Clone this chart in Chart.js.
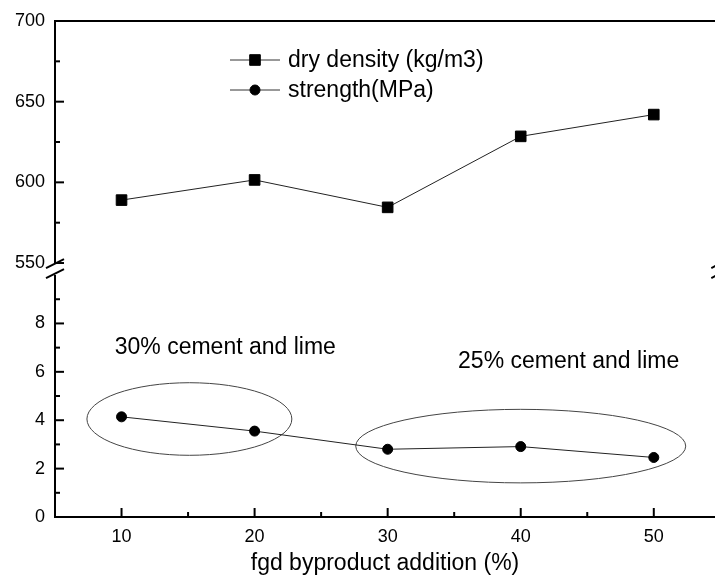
<!DOCTYPE html>
<html>
<head>
<meta charset="utf-8">
<script src="https://cdn.jsdelivr.net/npm/chart.js@4/dist/chart.umd.min.js"></script>
<style>
  html, body { margin: 0; padding: 0; overflow: hidden; background: #fff; }
  canvas { display: block; }
</style>
</head>
<body>
<canvas id="chart" width="715" height="584"></canvas>
<script>
const additions  = [10, 20, 30, 40, 50];
const dryDensity = [589, 601.5, 584.5, 628.5, 642];
const strength   = [4.14, 3.55, 2.8, 2.91, 2.46];

const xMajor = [10, 20, 30, 40, 50];
const xMinor = [15, 25, 35, 45];
const xFrameRight = 55;            // right frame line, just beyond the visible range
const densityMajor  = [550, 600, 650, 700];
const densityMinor  = [575, 625, 675];
const strengthMajor = [0, 2, 4, 6, 8];
const strengthMinor = [1, 3, 5, 7, 9];

// groups of mixes circled on the strength panel
const groupLabels = ['30% cement and lime', '25% cement and lime'];
const groupCenterX = [15.1, 40];
const groupCenterY = [4.05, 2.93];
const groupHalfX   = [7.7, 12.4];
const groupHalfY   = [1.5, 1.52];
const labelX = [17.8, 43.6];
const labelY = [7.0, 6.4];

const FONT = '"Liberation Sans", Arial, Helvetica, sans-serif';

const toPoints = (ys) => additions.map((x, i) => ({ x, y: ys[i] }));

const brokenAxes = {
    id: 'brokenAxes',
    beforeDatasetsDraw(chart) {
        const { ctx, scales: { x, ys } } = chart;
        ctx.save();
        ctx.strokeStyle = '#444';
        ctx.lineWidth = 1;
        groupLabels.forEach((label, i) => {
            const cx = x.getPixelForValue(groupCenterX[i]);
            const cy = ys.getPixelForValue(groupCenterY[i]);
            const rx = x.getPixelForValue(groupCenterX[i] + groupHalfX[i]) - cx;
            const ry = cy - ys.getPixelForValue(groupCenterY[i] + groupHalfY[i]);
            ctx.beginPath();
            ctx.ellipse(cx, cy, rx, ry, 0, 0, Math.PI * 2);
            ctx.stroke();
        });
        ctx.fillStyle = '#000';
        ctx.font = '23px ' + FONT;
        ctx.textAlign = 'center';
        ctx.textBaseline = 'middle';
        groupLabels.forEach((label, i) => {
            ctx.fillText(label, x.getPixelForValue(labelX[i]), ys.getPixelForValue(labelY[i]));
        });
        ctx.restore();
    },
    afterDraw(chart) {
        const { ctx, chartArea: a, scales: { x, yd, ys } } = chart;
        const line = (x1, y1, x2, y2) => {
            ctx.beginPath(); ctx.moveTo(x1, y1); ctx.lineTo(x2, y2); ctx.stroke();
        };
        ctx.save();
        ctx.strokeStyle = '#000';
        ctx.lineWidth = 2;
        ctx.lineCap = 'butt';

        const brkTop = yd.getPixelForValue(550);
        const brkBot = ys.getPixelForValue(10);
        const rightPx = x.getPixelForValue(xFrameRight);

        line(a.left - 1, a.top, rightPx, a.top);
        [a.left, rightPx].forEach(px => {
            line(px, a.top, px, brkTop);
            line(px, brkBot, px, a.bottom);
            line(px - 9, brkTop + 5, px + 9, brkTop - 4);
            line(px - 9, brkBot + 3, px + 9, brkBot - 6);
        });

        // inward tick marks
        densityMajor.forEach(v => line(a.left, yd.getPixelForValue(v), a.left + 9, yd.getPixelForValue(v)));
        densityMinor.forEach(v => line(a.left, yd.getPixelForValue(v), a.left + 5, yd.getPixelForValue(v)));
        strengthMajor.forEach(v => line(a.left, ys.getPixelForValue(v), a.left + 9, ys.getPixelForValue(v)));
        strengthMinor.forEach(v => line(a.left, ys.getPixelForValue(v), a.left + 5, ys.getPixelForValue(v)));
        xMajor.forEach(v => line(x.getPixelForValue(v), a.bottom, x.getPixelForValue(v), a.bottom - 9));
        xMinor.forEach(v => line(x.getPixelForValue(v), a.bottom, x.getPixelForValue(v), a.bottom - 5));

        // legend: line with marker, then label
        ctx.font = '23px ' + FONT;
        ctx.textBaseline = 'middle';
        ctx.textAlign = 'left';
        chart.data.datasets.forEach((ds, i) => {
            const y = 60 + i * 30;
            ctx.strokeStyle = '#333';
            ctx.lineWidth = 1;
            line(230, y, 280, y);
            ctx.fillStyle = ds.pointBackgroundColor;
            ctx.strokeStyle = ds.pointBorderColor;
            Chart.helpers.drawPoint(ctx, {
                pointStyle: ds.pointStyle,
                radius: ds.pointRadius,
                borderWidth: ds.pointBorderWidth,
                rotation: 0
            }, 255, y);
            ctx.fillStyle = '#000';
            ctx.fillText(ds.label, 288, y + 1);
        });
        ctx.restore();
    }
};

new Chart(document.getElementById('chart'), {
    type: 'line',
    data: {
        datasets: [{
            label: 'dry density (kg/m3)',
            data: toPoints(dryDensity),
            yAxisID: 'yd',
            borderColor: '#222',
            borderWidth: 1,
            pointStyle: 'rect',
            pointRadius: 7.5,
            pointBorderWidth: 1,
            pointBackgroundColor: '#000',
            pointBorderColor: '#000'
        }, {
            label: 'strength(MPa)',
            data: toPoints(strength),
            yAxisID: 'ys',
            borderColor: '#222',
            borderWidth: 1,
            pointStyle: 'circle',
            pointRadius: 5,
            pointBorderWidth: 1,
            pointBackgroundColor: '#000',
            pointBorderColor: '#000'
        }]
    },
    options: {
        responsive: false,
        animation: false,
        layout: { autoPadding: false, padding: { top: 21, right: 0, left: 0, bottom: 0 } },
        plugins: { legend: { display: false }, tooltip: { enabled: false } },
        scales: {
            x: {
                type: 'linear',
                min: 5,
                max: 54.6,      // frame continues off the right edge
                afterBuildTicks: s => { s.ticks = xMajor.map(value => ({ value })); },
                afterFit: s => { s.height = 67; s.paddingLeft = 0; s.paddingRight = 0; },
                grid: { display: false, drawTicks: false },
                border: { display: true, color: '#000', width: 2 },
                ticks: { color: '#000', padding: 9, font: { family: FONT, size: 18 } },
                title: {
                    display: true,
                    text: 'fgd byproduct addition (%)',
                    color: '#000',
                    font: { family: FONT, size: 23 },
                    padding: { top: 0, bottom: 7 }
                }
            },
            // stacked pair: strength panel below, density panel above
            ys: {
                type: 'linear',
                position: 'left',
                stack: 'y',
                stackWeight: 1,
                min: 0,
                max: 10.25,     // leaves room for the break above 10
                afterBuildTicks: s => { s.ticks = strengthMajor.map(value => ({ value })); },
                afterFit: s => { s.width = 55; },
                grid: { display: false, drawTicks: false },
                border: { display: false },
                ticks: { color: '#000', padding: 10, font: { family: FONT, size: 18 } }
            },
            yd: {
                type: 'linear',
                position: 'left',
                stack: 'y',
                stackWeight: 1,
                min: 546.3,     // leaves room for the break below 550
                max: 700,
                afterBuildTicks: s => { s.ticks = densityMajor.map(value => ({ value })); },
                afterFit: s => { s.width = 55; },
                grid: { display: false, drawTicks: false },
                border: { display: false },
                ticks: { color: '#000', padding: 10, font: { family: FONT, size: 18 } }
            }
        }
    },
    plugins: [brokenAxes]
});
</script>
</body>
</html>
